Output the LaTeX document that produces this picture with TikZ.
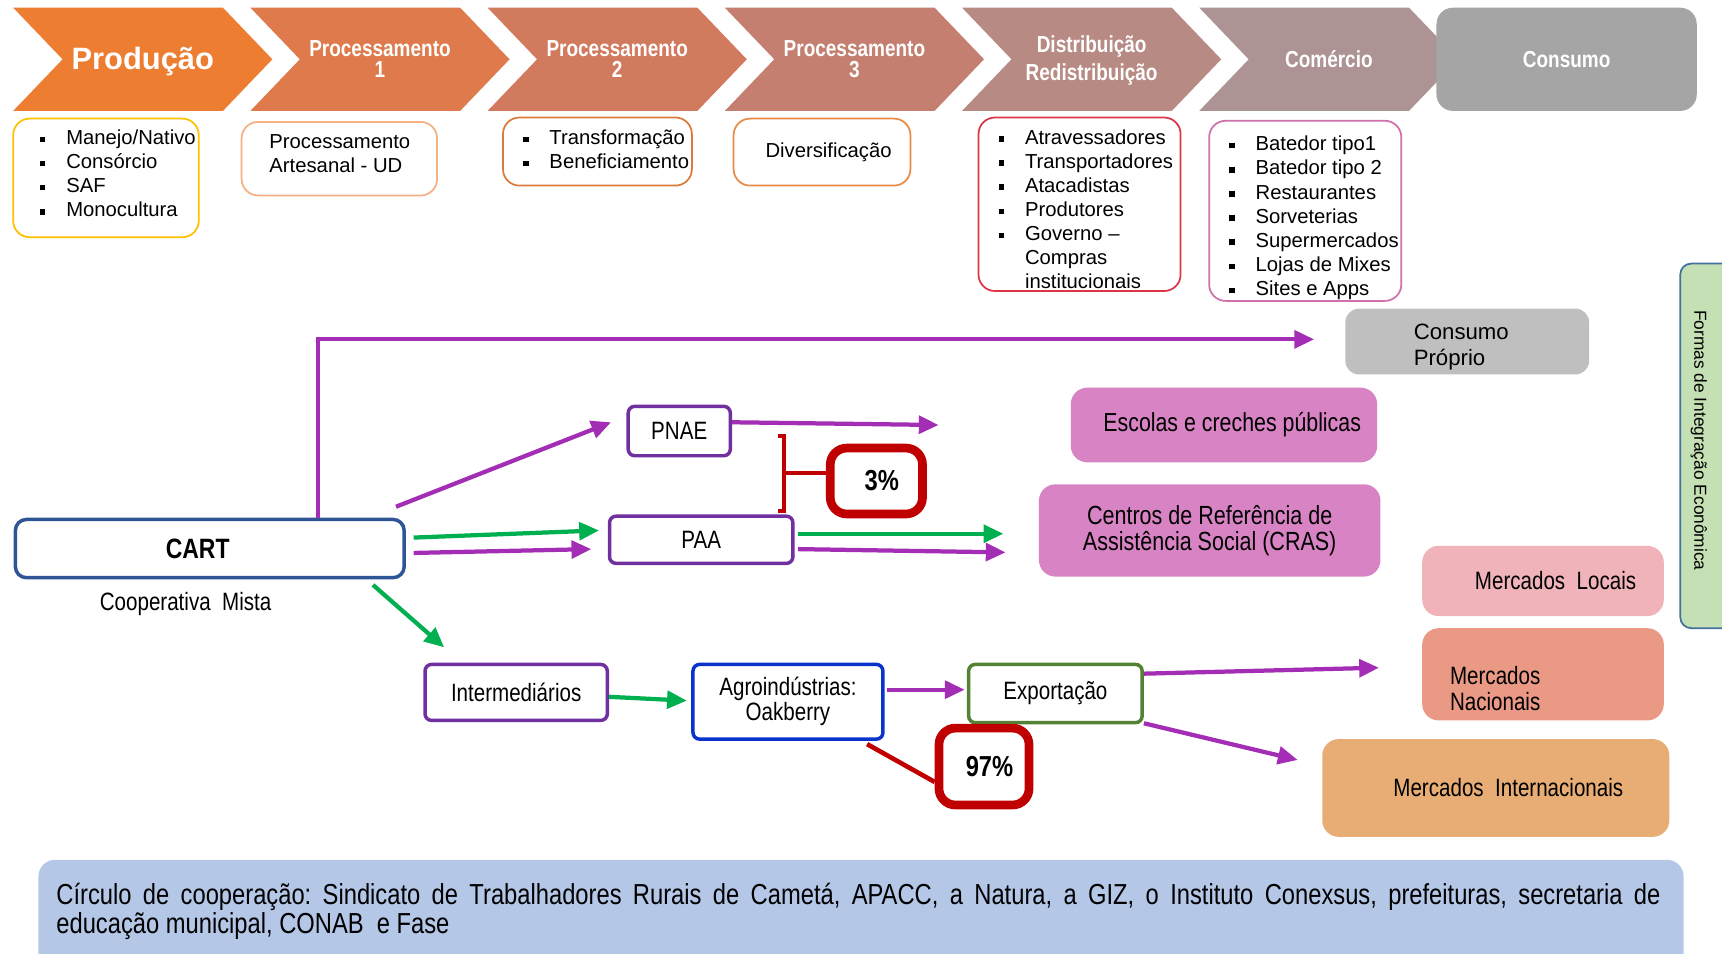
\documentclass[tikz,border=0pt]{standalone}
\usepackage{fontspec}
\setmainfont{Liberation Sans}
\newfontfamily\narrowfont[FakeStretch=0.82]{Liberation Sans}
\usetikzlibrary{arrows.meta,calc}
\frenchspacing
\definecolor{chevA}{HTML}{ED7D31}
\definecolor{chevB}{HTML}{DE7A4B}
\definecolor{chevC}{HTML}{D27A5E}
\definecolor{chevD}{HTML}{C47F70}
\definecolor{chevE}{HTML}{B88A84}
\definecolor{chevF}{HTML}{AD9393}
\definecolor{consgray}{HTML}{A5A5A5}
\definecolor{cpgray}{HTML}{BFBFBF}
\definecolor{bdA}{HTML}{FFC000}
\definecolor{bdB}{HTML}{F4B183}
\definecolor{bdC}{HTML}{DD7A3A}
\definecolor{bdD}{HTML}{E98A45}
\definecolor{bdE}{HTML}{DC3545}
\definecolor{bdF}{HTML}{D070AC}
\definecolor{purp}{HTML}{A42DB6}
\definecolor{progpurp}{HTML}{7030A0}
\definecolor{arrgreen}{HTML}{00B050}
\definecolor{darkred}{HTML}{C00000}
\definecolor{cartblue}{HTML}{2F5597}
\definecolor{agroblue}{HTML}{0A33CC}
\definecolor{expgreen}{HTML}{548235}
\definecolor{orchid}{HTML}{D883C4}
\definecolor{locpink}{HTML}{F0B3BA}
\definecolor{nacsalmon}{HTML}{EA9985}
\definecolor{intltan}{HTML}{E8AD75}
\definecolor{formgreen}{HTML}{C5E0B4}
\definecolor{formblue}{HTML}{41719C}
\definecolor{coopblue}{HTML}{B4C7E7}
\newcommand\bulsq{\makebox[0.48cm][l]{\rule[0.12em]{0.1cm}{0.1cm}}}
\newcommand\nobulsq{\hspace*{0.48cm}}
\begin{document}
\begin{tikzpicture}[x=0.02cm,y=-0.02cm,
  boxsize/.style 2 args={minimum width=#1*0.02cm,minimum height=#2*0.02cm},
  chevlabel/.style={text=white,font=\narrowfont\bfseries\fontsize{12}{10.8}\selectfont,align=center,inner sep=0pt},
  listbox/.style={draw=#1,line width=0.9pt,rounded corners=0.3cm,fill=white,inner sep=0pt},
  listtext/.style={anchor=west,align=left,inner sep=0pt,font=\fontsize{10.5}{12.5}\selectfont},
  progbox/.style={draw=#1,line width=1.8pt,rounded corners=0.12cm,fill=white,inner sep=0pt,font=\narrowfont\fontsize{13}{13}\selectfont,align=center},
  pctbox/.style={draw=darkred,line width=4.5pt,rounded corners=0.3cm,fill=white,inner sep=0pt,font=\narrowfont\bfseries\fontsize{15}{17}\selectfont},
  destbox/.style={fill=#1,rounded corners=0.3cm,inner sep=0pt,font=\narrowfont\fontsize{13}{13.6}\selectfont,align=center},
  purparrow/.style={draw=purp,line width=2.2pt,-{Triangle[length=0.36cm,width=0.32cm]}},
  greenarrow/.style={draw=arrgreen,line width=2.2pt,-{Triangle[length=0.36cm,width=0.32cm]}},
  redline/.style={draw=darkred,line width=2pt}]
\useasboundingbox (0,0) rectangle (1568,868);
\clip (0,0) rectangle (1568,868);
% chevrons
\fill[chevA] (12,7) -- (203,7) -- (248,54) -- (203,101) -- (12,101) -- (57,54) -- cycle;
\fill[chevB] (228,7) -- (419,7) -- (464,54) -- (419,101) -- (228,101) -- (273,54) -- cycle;
\fill[chevC] (444,7) -- (635,7) -- (680,54) -- (635,101) -- (444,101) -- (489,54) -- cycle;
\fill[chevD] (660,7) -- (851,7) -- (896,54) -- (851,101) -- (660,101) -- (705,54) -- cycle;
\fill[chevE] (876,7) -- (1067,7) -- (1112,54) -- (1067,101) -- (876,101) -- (921,54) -- cycle;
\fill[chevF] (1092,7) -- (1283,7) -- (1328,54) -- (1283,101) -- (1092,101) -- (1137,54) -- cycle;
\node[fill=consgray,rounded corners=0.3cm,boxsize={237}{94},chevlabel] (cons) at (1426.5,54) {Consumo};
\node[chevlabel,font=\bfseries\fontsize{16}{18}\selectfont] (prod) at (130,56) {Produção};
\node[chevlabel] (proc1) at (346,54) {Processamento\\1};
\node[chevlabel] (proc2) at (562,54) {Processamento\\2};
\node[chevlabel] (proc3) at (778,54) {Processamento\\3};
\node[chevlabel] (dist) at (994,55) {Distribuição\\[2.6pt]Redistribuição};
\node[chevlabel] (com) at (1210,54) {Comércio};
% boxes under the chevrons
\node[listbox=bdA,boxsize={169}{108}] (prodbox) at (96.5,162) {};
\node[listtext] (prodlist) at (36,158) {\bulsq Manejo/Nativo\\\bulsq Consórcio\\\bulsq SAF\\\bulsq Monocultura};
\node[listbox=bdB,boxsize={178}{67}] (p1box) at (309,144.5) {};
\node[listtext] (p1text) at (245,140) {Processamento\\Artesanal - UD};
\node[listbox=bdC,boxsize={172}{62}] (p2box) at (544,138) {};
\node[listtext] (p2list) at (476,136) {\bulsq Transformação\\\bulsq Beneficiamento};
\node[listbox=bdD,boxsize={161}{61},font=\fontsize{10.5}{12.5}\selectfont] (p3box) at (748.5,138.5) {\hspace*{0.24cm}Diversificação};
\node[listbox=bdE,boxsize={184}{158}] (distbox) at (983,186) {};
\node[listtext] (distlist) at (909,190.5) {\bulsq Atravessadores\\\bulsq Transportadores\\\bulsq Atacadistas\\\bulsq Produtores\\\bulsq Governo –\\\nobulsq Compras\\\nobulsq institucionais};
\node[listbox=bdF,boxsize={175}{164}] (combox) at (1188.5,192) {};
\node[listtext] (comlist) at (1119,198.5) {\bulsq Batedor tipo1\\\bulsq Batedor tipo 2\\\bulsq Restaurantes\\\bulsq Sorveterias\\\bulsq Supermercados\\\bulsq Lojas de Mixes\\\bulsq Sites e Apps};
% CART and its channels
\node[draw=cartblue,line width=1.8pt,rounded corners=0.2cm,fill=white,boxsize={354}{53},font=\narrowfont\bfseries\fontsize{14.5}{16}\selectfont] (cart) at (191,499.5) {CART\hspace*{0.44cm}};
\node[font=\narrowfont\fontsize{13}{14}\selectfont] (coop) at (169,550) {Cooperativa~ Mista};
\node[fill=cpgray,rounded corners=0.25cm,boxsize={222}{60}] (cprop) at (1336,311) {};
\node[anchor=west,align=left,inner sep=0pt,font=\fontsize{11.5}{13.6}\selectfont] (cproptext) at (1287,316) {Consumo\\Próprio};
\node[progbox=progpurp,boxsize={93}{45}] (pnae) at (618.5,392.5) {PNAE};
\node[destbox=orchid,boxsize={279}{68},font=\narrowfont\fontsize{13.5}{14}\selectfont] (escolas) at (1114.5,387) {\hspace*{0.3cm}Escolas e creches públicas};
\node[pctbox,boxsize={84}{60}] (pct3) at (798,438) {\hspace*{0.2cm}3\%};
\node[progbox=progpurp,boxsize={167}{43}] (paa) at (638.5,491.5) {PAA};
\node[destbox=orchid,boxsize={311}{84},font=\narrowfont\fontsize{13.6}{13.6}\selectfont] (cras) at (1101.5,483) {Centros de Referência de\\Assistência Social (CRAS)};
\node[progbox=progpurp,boxsize={166}{51}] (inter) at (470,630.5) {Intermediários};
\node[progbox=agroblue,boxsize={173}{68}] (agro) at (717.5,639) {Agroindústrias:\\Oakberry};
\node[progbox=expgreen,boxsize={158}{53}] (export) at (961,631.5) {Exportação};
\node[pctbox,boxsize={82}{70}] (pct97) at (896,698) {\hspace*{0.2cm}97\%};
\node[destbox=locpink,boxsize={220}{64}] (locais) at (1405,529) {\quad Mercados~ Locais};
\node[destbox=nacsalmon,boxsize={220}{84}] (nac) at (1405,614) {};
\node[anchor=west,align=left,inner sep=0pt,font=\narrowfont\fontsize{13}{13.6}\selectfont] (nactext) at (1320,627) {Mercados\\Nacionais};
\node[destbox=intltan,boxsize={316}{89}] (intl) at (1362,717.5) {\quad Mercados~ Internacionais};
% side and bottom bands
\node[fill=formgreen,draw=formblue,line width=0.9pt,rounded corners=0.2cm,boxsize={60}{332}] (formas) at (1560,406) {};
\node[rotate=-90,inner sep=0pt,font=\fontsize{9}{11}\selectfont] (formastext) at (1547,401) {Formas de Integração Econômica};
\node[fill=coopblue,rounded corners=0.3cm,boxsize={1498}{117}] (coopbox) at (784,841.5) {};
\node[anchor=west,align=left,inner sep=0pt,font=\narrowfont\fontsize{15}{14.7}\selectfont] (cooptext) at (51,830) {\makebox[29.22cm][s]{Círculo de cooperação: Sindicato de Trabalhadores Rurais de Cametá, APACC, a Natura, a GIZ, o Instituto Conexsus, prefeituras, secretaria de}\\educação municipal, CONAB~ e Fase};
% arrows
\coordinate (cpin) at ($(cprop.west)+(-28,-2)$);
\draw[purparrow] ($(cart.north west)+(277,0)$) |- (cpin);
\draw[purparrow] ($(cart.north east)+(-9,-10)$) -- ($(pnae.west)+(-14,-8)$);
\draw[purparrow] ($(pnae.east)+(0,-8)$) -- ($(escolas.west)+(-120,0)$);
\coordinate (brk) at ($(pct3.west)+(-38,-7)$);
\draw[redline] ($(brk)+(-6,-34)$) -- ++(6,0) -- ++(0,68) -- ++(-6,0);
\draw[redline] (brk) -- (brk -| pct3.west);
\draw[greenarrow] ($(cart.east)+(7,-10)$) -- ($(paa.west)+(-8,-8.5)$);
\draw[purparrow] ($(cart.east)+(7,4)$) -- ($(paa.west)+(-15,8.5)$);
\draw[greenarrow] ($(paa.east)+(3,-5.5)$) -- ($(cras.west)+(-32,3)$);
\draw[purparrow] ($(paa.east)+(3,8.5)$) -- ($(cras.west)+(-30,20)$);
\draw[greenarrow] ($(cart.south east)+(-30,5)$) -- ($(inter.north west)+(19,-14)$);
\draw[greenarrow] ($(inter.east)+(0,4)$) -- ($(agro.west)+(-4,-1)$);
\draw[purparrow] ($(agro.east)+(2,-11)$) -- ($(export.west)+(-2,-3.5)$);
\draw[purparrow] ($(export.north east)+(0,10)$) -- ($(nac.west)+(-39,-6)$);
\draw[purparrow] ($(export.south east)+(0,-1)$) -- ($(intl.west)+(-22,-25.5)$);
\draw[redline,line width=2.4pt] ($(agro.south east)+(-16,3)$) -- ($(pct97.west)+(0,14)$);
\end{tikzpicture}
\end{document}
